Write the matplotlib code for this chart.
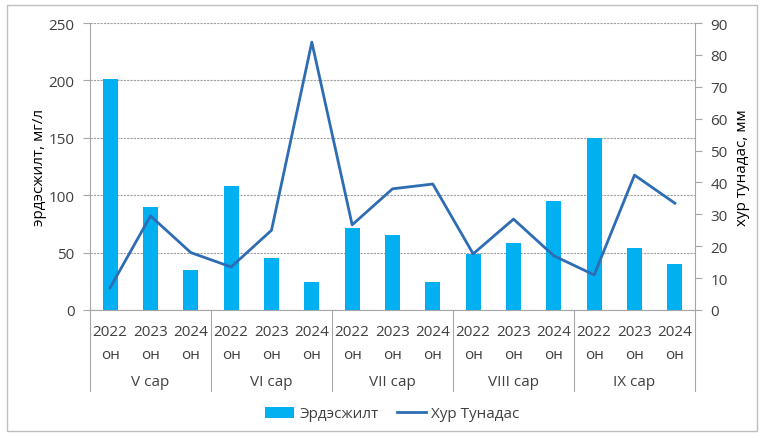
import matplotlib.pyplot as plt
from matplotlib.patches import Rectangle
from matplotlib.transforms import blended_transform_factory
import numpy as np

plt.rcParams['font.family'] = ['Open Sans', 'DejaVu Sans']

months = ['V сар', 'VI сар', 'VII сар', 'VIII сар', 'IX сар']
years = ['2022\nон', '2023\nон', '2024\nон']
mineral = [201, 90, 35, 108, 45, 24, 71, 65, 24, 49, 58, 95, 150, 54, 40]
rain = [7, 29.5, 18, 13.5, 25, 84, 26.7, 38, 39.5, 17.6, 28.5, 17, 11, 42.3, 33.5]

grey = '#A6A6A6'
text_col = '#404040'

fig = plt.figure(figsize=(7.65, 4.39), dpi=100)
ax = fig.add_axes([90 / 765, 1 - 311 / 439, 605 / 765, 287 / 439])
ax2 = ax.twinx()

x = np.arange(len(mineral))
ax.bar(x, mineral, width=0.38, color='#00B0F0', zorder=3, label='Эрдэсжилт')
ax2.plot(x, rain, color='#2E6DB4', lw=2, zorder=4, label='Хур Тунадас')

ax.set_xlim(-0.5, len(mineral) - 0.5)
ax.set_ylim(0, 250)
ax.set_yticks(range(0, 251, 50))
ax2.set_ylim(0, 90)
ax2.set_yticks(range(0, 91, 10))

ax.yaxis.grid(True, color='#A0A0A0', linestyle=(0, (2, 1)), lw=0.8, zorder=0)
ax.set_axisbelow(True)

for a in (ax, ax2):
    a.spines['top'].set_visible(False)
    for s in ('left', 'right', 'bottom'):
        a.spines[s].set_color(grey)
    a.tick_params(axis='y', colors=grey, labelcolor=text_col, labelsize=11,
                  length=5, width=0.8, pad=6)
ax2.spines['left'].set_visible(False)
ax.spines['right'].set_visible(False)
ax2.spines['bottom'].set_visible(False)

ax.set_xticks(x)
ax.set_xticklabels(years * len(months), fontsize=11, color=text_col, linespacing=1.75)
ax.tick_params(axis='x', length=0, pad=10)

ax.set_ylabel('эрдэсжилт, мг/л', fontsize=11, color='black')
ax2.set_ylabel('хур тунадас, мм', fontsize=11, color='black')
ax.yaxis.set_label_coords(-0.071, 0.5)
ax2.yaxis.set_label_coords(1.066, 0.5)

# month group labels and dividers under the axis
trans = blended_transform_factory(ax.transData, ax.transAxes)
for i in range(len(months) + 1):
    ax.plot([i * 3 - 0.5] * 2, [0, -0.282], color=grey, lw=0.8,
            transform=trans, clip_on=False)
for i, m in enumerate(months):
    ax.text(i * 3 + 1, -0.248, m, transform=trans, ha='center', va='center',
            fontsize=11, color=text_col)

h1, l1 = ax.get_legend_handles_labels()
h2, l2 = ax2.get_legend_handles_labels()
fig.legend(h1 + h2, l1 + l2, loc='center', bbox_to_anchor=(392 / 765, 1 - 415 / 439),
           ncol=2, frameon=False, fontsize=11, labelcolor=text_col,
           handlelength=1.9, columnspacing=1.2, handletextpad=0.35)

fig.patches.append(Rectangle((7 / 765, 1 - 432 / 439), 750 / 765, 426 / 439,
                             transform=fig.transFigure, fill=False,
                             edgecolor='#BFBFBF', lw=1))

fig.savefig('out.png', dpi=100)
